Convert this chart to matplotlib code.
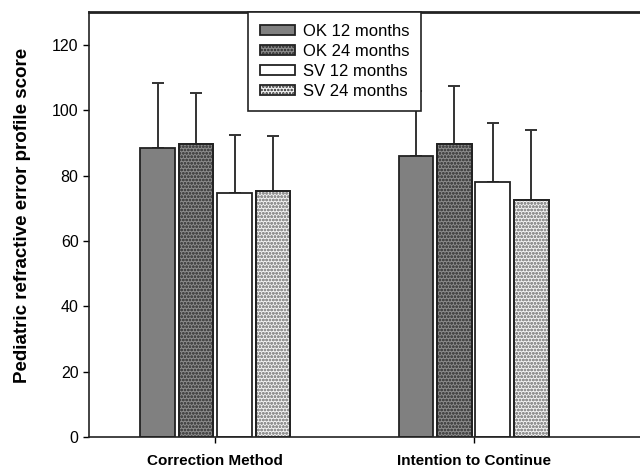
import matplotlib
matplotlib.use('Agg')
import matplotlib.pyplot as plt
import numpy as np

plt.rcParams['font.family'] = ['Liberation Sans', 'DejaVu Sans']
plt.rcParams['hatch.linewidth'] = 1.2

groups = ['Correction Method', 'Intention to Continue']
series = ['OK 12 months', 'OK 24 months', 'SV 12 months', 'SV 24 months']
means = [[88.3, 86.1],
         [89.8, 89.8],
         [74.8, 78.0],
         [75.2, 72.5]]
upper = [[108.3, 105.9],
         [105.2, 107.3],
         [92.4, 96.2],
         [92.1, 94.0]]
colors = ['#808080', '#8c8c8c', '#ffffff', '#f2f2f2']
hatches = [None, '.....', None, '.....']
hatch_colors = ['#808080', '#4a4a4a', '#ffffff', '#a8a8a8']

fig = plt.figure(figsize=(6.4, 4.68), dpi=100)
ax = fig.add_axes([0.139, 0.066, 0.861, 0.908])

x = np.arange(len(groups))
w = 0.134
step = 0.149
for i in range(len(series)):
    pos = x + (i - 1.5) * step
    m = np.array(means[i])
    err = np.array(upper[i]) - m
    ax.bar(pos, m, width=w, color=colors[i], edgecolor='#222222', linewidth=1.3,
           hatch=hatches[i], label=series[i], zorder=2)
    if hatches[i]:
        ax.bar(pos, m, width=w, color='none', edgecolor=hatch_colors[i], linewidth=0,
               hatch=hatches[i], zorder=3)
        ax.bar(pos, m, width=w, color='none', edgecolor='#222222', linewidth=1.3, zorder=4)
    ax.errorbar(pos, m, yerr=[np.zeros_like(err), err], fmt='none', ecolor='#333333',
                elinewidth=1.4, capsize=4.5, capthick=1.4, zorder=1)

ax.set_xlim(-0.49, 1.645)
ax.set_ylim(0, 130)
ax.set_yticks([0, 20, 40, 60, 80, 100, 120])
ax.set_xticks(x)
ax.set_xticklabels(groups, fontweight='bold', fontsize=11)
ax.tick_params(axis='y', labelsize=11.5, direction='out', length=4, width=1)
ax.tick_params(axis='x', direction='out', length=4, width=1, pad=8)
ax.set_ylabel('Pediatric refractive error profile score', fontweight='bold', fontsize=13.5)
ax.yaxis.set_label_coords(-0.105, 0.522)
ax.spines['right'].set_visible(False)
for s in ['left', 'top', 'bottom']:
    ax.spines[s].set_color('#222222')
    ax.spines[s].set_linewidth(1.2)
ax.spines['top'].set_linewidth(2)

leg = ax.legend(loc='upper left', bbox_to_anchor=(0.289, 1.0), borderaxespad=0,
                frameon=True, fancybox=False, framealpha=1, fontsize=12,
                handlelength=2.1, handleheight=0.55, handletextpad=0.5,
                labelspacing=0.3, borderpad=0.7)
leg.set_zorder(10)
leg.get_frame().set_edgecolor('#222222')
leg.get_frame().set_linewidth(1.2)

fig.savefig('out.png', dpi=100)
